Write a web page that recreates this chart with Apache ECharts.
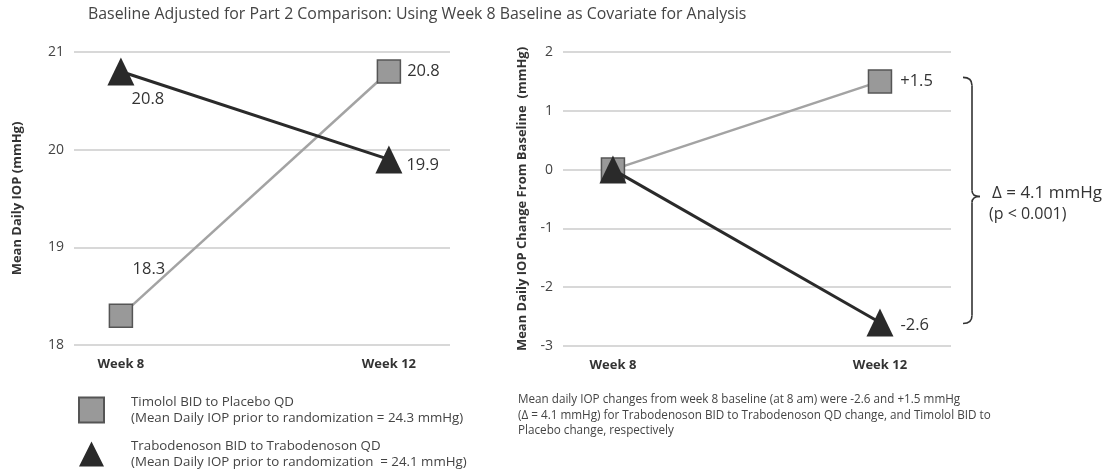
<!DOCTYPE html>
<html>
<head>
<meta charset="utf-8">
<script src="https://cdn.jsdelivr.net/npm/echarts@6/dist/echarts.min.js"></script>
<style>
  html, body { margin: 0; padding: 0; background: #fff; }
  #chart { width: 1112px; height: 475px; }
</style>
</head>
<body>
<div id="chart"></div>
<script>
// data
const weeks = ['Week 8', 'Week 12'];
const seriesNames = ['Timolol BID to Placebo QD', 'Trabodenoson BID to Trabodenoson QD'];
const legendNotes = [
  '(Mean Daily IOP prior to randomization = 24.3 mmHg)',
  '(Mean Daily IOP prior to randomization  = 24.1 mmHg)'
];
const timololIop = [18.3, 20.8];
const trabodenosonIop = [20.8, 19.9];
const timololChange = [0, 1.5];
const trabodenosonChange = [0, -2.6];
const iopTicks = [18, 21];      // min, max
const changeTicks = [-3, 2];

const font = '"Open Sans", Roboto, sans-serif';
const grayLine = '#a3a3a3';
const darkLine = '#2a2a2a';

// per point label placement (week 8, week 12)
function points(values, places, fmt) {
  return values.map((v, i) => ({
    value: [i, v],
    label: places[i] ? Object.assign({ show: true, formatter: fmt(v) }, places[i]) : { show: false }
  }));
}
const fix1 = v => v.toFixed(1);
const signed = v => (v > 0 ? '+' : '') + v.toFixed(1);

function xAxisFor(gridIndex, min, max) {
  return {
    type: 'value', gridIndex, min, max,
    axisLine: { show: false }, axisTick: { show: false }, splitLine: { show: false },
    axisLabel: {
      customValues: [0, 1], margin: 13,
      formatter: v => weeks[Math.round(v)] || '',
      fontFamily: font, fontWeight: 'bold', fontSize: 13, color: '#333'
    }
  };
}
function yAxisFor(gridIndex, lim, name, gap, margin) {
  return {
    type: 'value', gridIndex, min: lim[0], max: lim[1], interval: 1,
    name, nameLocation: 'middle', nameRotate: 90, nameGap: gap,
    nameTextStyle: { fontFamily: font, fontWeight: 'bold', fontSize: 13, color: '#333' },
    axisLine: { show: false }, axisTick: { show: false },
    axisLabel: { margin, fontFamily: font, fontSize: 14, color: '#444' },
    splitLine: { lineStyle: { color: '#cbcbcb', width: 1.6 } }
  };
}
const labelStyle = { fontFamily: font, fontSize: 16.5, color: '#333' };

function squareSeries(name, xi, data) {
  return {
    name, type: 'line', xAxisIndex: xi, yAxisIndex: xi, data,
    symbol: 'rect', symbolSize: 23,
    lineStyle: { color: grayLine, width: 2.5 },
    itemStyle: { color: '#999', borderColor: '#555', borderWidth: 1.5 },
    label: labelStyle, z: 2
  };
}
function triangleSeries(name, xi, data) {
  return {
    name, type: 'line', xAxisIndex: xi, yAxisIndex: xi, data,
    symbol: 'triangle', symbolSize: [27, 28],
    lineStyle: { color: darkLine, width: 3 },
    itemStyle: { color: darkLine },
    label: labelStyle, z: 3
  };
}

const chart = echarts.init(document.getElementById('chart'));
const option = {
  backgroundColor: '#fff',
  animation: false,
  title: {
    text: 'Baseline Adjusted for Part 2 Comparison: Using Week 8 Baseline as Covariate for Analysis',
    left: 88, top: 6, padding: 0,
    textStyle: { fontFamily: font, fontWeight: 'normal', fontSize: 15.9, color: '#444' }
  },
  legend: {
    orient: 'vertical', left: 78, top: 394, padding: 0,
    itemWidth: 25, itemHeight: 25, itemGap: 12, selectedMode: false,
    data: [
      { name: seriesNames[0], icon: 'rect' },
      { name: seriesNames[1], icon: 'triangle' }
    ],
    formatter: n => n + '\n' + legendNotes[seriesNames.indexOf(n)],
    textStyle: { fontFamily: font, fontSize: 13.3, color: '#444', lineHeight: 16, padding: [0, 0, 0, 22] }
  },
  grid: [
    { left: 74, top: 52, width: 376, height: 293 },
    { left: 563, top: 52, width: 388, height: 294 }
  ],
  xAxis: [xAxisFor(0, -0.175, 1.228), xAxisFor(1, -0.187, 1.266)],
  yAxis: [
    yAxisFor(0, iopTicks, 'Mean Daily IOP (mmHg)', 50, 10),
    yAxisFor(1, changeTicks, 'Mean Daily IOP Change From Baseline  (mmHg)', 34, 10)
  ],
  series: [
    squareSeries(seriesNames[0], 0, points(timololIop, [
      { position: 'top', offset: [28, -21] },
      { position: 'right', distance: 6 }
    ], fix1)),
    triangleSeries(seriesNames[1], 0, points(trabodenosonIop, [
      { position: 'bottom', offset: [27, 0] },
      { position: 'right', distance: 4, offset: [0, 6] }
    ], fix1)),
    squareSeries(seriesNames[0], 1, points(timololChange, [
      null,
      { position: 'right', distance: 8 }
    ], signed)),
    triangleSeries(seriesNames[1], 1, points(trabodenosonChange, [
      null,
      { position: 'right', distance: 7, offset: [0, 3] }
    ], signed))
  ]
};
chart.setOption(option);

// brace between the two week-12 changes, and the notes
const yTop = chart.convertToPixel({ yAxisIndex: 1 }, timololChange[1]) - 4;
const yBot = chart.convertToPixel({ yAxisIndex: 1 }, trabodenosonChange[1]) + 1;
const yMid = (yTop + yBot) / 2 - 4;
const bx = 972;
const braceStyle = { fill: 'none', stroke: '#333', lineWidth: 1.6 };
const curve = (x1, y1, cx, cy, x2, y2) => ({
  type: 'bezierCurve', shape: { x1, y1, x2, y2, cpx1: cx, cpy1: cy }, style: braceStyle
});
const seg = (x1, y1, x2, y2) => ({ type: 'line', shape: { x1, y1, x2, y2 }, style: braceStyle });
chart.setOption({
  graphic: [
    curve(bx - 9, yTop, bx, yTop, bx, yTop + 8),
    seg(bx, yTop + 8, bx, yMid - 6),
    curve(bx, yMid - 6, bx, yMid, bx + 8, yMid),
    curve(bx + 8, yMid, bx, yMid, bx, yMid + 6),
    seg(bx, yMid + 6, bx, yBot - 8),
    curve(bx, yBot - 8, bx, yBot, bx - 9, yBot),
    {
      type: 'text', left: 992, top: yMid - 12,
      style: { text: '\u0394 = 4.1 mmHg', fontFamily: font, fontSize: 17, fill: '#333' }
    },
    {
      type: 'text', left: 989, top: yMid + 10,
      style: { text: '(p < 0.001)', fontFamily: font, fontSize: 16, fill: '#333' }
    },
    {
      type: 'text', left: 518, top: 392,
      style: {
        text: 'Mean daily IOP changes from week 8 baseline (at 8 am) were -2.6 and +1.5 mmHg\n' +
          '(\u0394 = 4.1 mmHg) for Trabodenoson BID to Trabodenoson QD change, and Timolol BID to\n' +
          'Placebo change, respectively',
        fontFamily: font, fontSize: 11.7, lineHeight: 15.5, fill: '#444'
      }
    }
  ]
});
window.addEventListener('resize', () => chart.resize());
</script>
</body>
</html>
